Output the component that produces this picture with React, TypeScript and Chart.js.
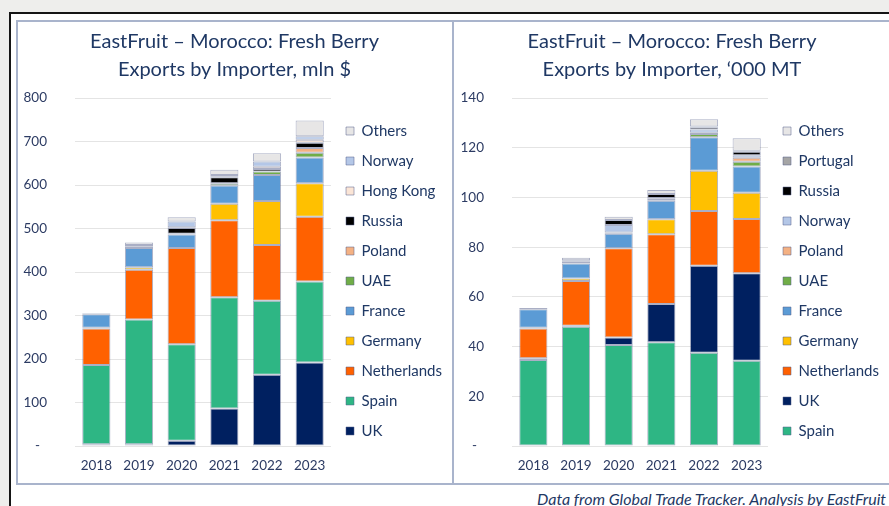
import { useEffect, useRef } from 'react';
import { Chart, registerables } from 'chart.js';

Chart.register(...registerables);

// ---------- data ----------
const YEARS = ['2018', '2019', '2020', '2021', '2022', '2023'];

// Left chart: mln $ (stack order bottom -> top)
const USD_UK = [4, 4, 12, 86, 164, 192];
const USD_SPAIN = [182, 287, 222, 256, 170, 186];
const USD_NETHERLANDS = [84, 114, 221, 177, 128, 149];
const USD_GERMANY = [2, 6, 0, 38, 101, 77];
const USD_FRANCE = [31, 44, 31, 42, 60, 59];
const USD_UAE = [0, 0, 2, 5, 8, 11];
const USD_POLAND = [0, 0, 0, 0, 0, 11];
const USD_RUSSIA = [1, 4, 13, 14, 6, 12];
const USD_HONGKONG = [0, 1, 2, 2, 5, 7];
const USD_NORWAY = [1, 2, 13, 3, 12, 8];
const USD_OTHERS = [1, 6, 10, 12, 19, 36];
const USD_MAX = 800;
const USD_STEP = 100;

// Right chart: '000 MT (stack order bottom -> top)
const MT_SPAIN = [34.6, 48, 40.6, 41.7, 37.5, 34.3];
const MT_UK = [0.7, 0.4, 3, 15.4, 35, 35.2];
const MT_NETHERLANDS = [12, 18, 36, 28.1, 22, 21.8];
const MT_GERMANY = [0.3, 1, 0, 6, 16.2, 10.6];
const MT_FRANCE = [7.4, 6, 5.8, 7.5, 13.5, 10.5];
const MT_UAE = [0, 0.2, 0.5, 0.8, 1.3, 2];
const MT_POLAND = [0, 0, 0, 0, 0.5, 1.6];
const MT_NORWAY = [0, 0.5, 3, 0.3, 1.3, 1];
const MT_RUSSIA = [0, 0, 2, 1.6, 0.9, 1.4];
const MT_PORTUGAL = [0, 0.6, 0, 0, 0.3, 0.4];
const MT_OTHERS = [0.5, 1, 1.3, 1.6, 3, 5];
const MT_MAX = 140;
const MT_STEP = 20;

const TITLE_LEFT = ['EastFruit – Morocco: Fresh Berry', 'Exports by Importer, mln $'];
const TITLE_RIGHT = ['EastFruit – Morocco: Fresh Berry', 'Exports by Importer, ‘000 MT'];
const FOOTER = 'Data from Global Trade Tracker. Analysis by EastFruit';

// ---------- styles ----------
const COLORS: Record<string, string> = {
  UK: '#002060',
  Spain: '#2eb684',
  Netherlands: '#ff6100',
  Germany: '#ffc000',
  France: '#5b9bd5',
  UAE: '#70ad47',
  Poland: '#f4b183',
  Russia: '#000000',
  'Hong Kong': '#fbe5d6',
  Norway: '#b4c7e7',
  Portugal: '#a5a5a5',
  Others: '#e7e6e6',
};
const FONT = 'Lato, "Open Sans", sans-serif';
const NAVY = '#1f3864';
const TICK = '#2c3b63';

const LEFT_SERIES: [string, number[]][] = [
  ['UK', USD_UK],
  ['Spain', USD_SPAIN],
  ['Netherlands', USD_NETHERLANDS],
  ['Germany', USD_GERMANY],
  ['France', USD_FRANCE],
  ['UAE', USD_UAE],
  ['Poland', USD_POLAND],
  ['Russia', USD_RUSSIA],
  ['Hong Kong', USD_HONGKONG],
  ['Norway', USD_NORWAY],
  ['Others', USD_OTHERS],
];

const RIGHT_SERIES: [string, number[]][] = [
  ['Spain', MT_SPAIN],
  ['UK', MT_UK],
  ['Netherlands', MT_NETHERLANDS],
  ['Germany', MT_GERMANY],
  ['France', MT_FRANCE],
  ['UAE', MT_UAE],
  ['Poland', MT_POLAND],
  ['Norway', MT_NORWAY],
  ['Russia', MT_RUSSIA],
  ['Portugal', MT_PORTUGAL],
  ['Others', MT_OTHERS],
];

function makeDatasets(series: [string, number[]][]) {
  return series.map(([label, data]) => ({
    label,
    data,
    backgroundColor: COLORS[label],
    borderColor: 'rgba(85,95,140,0.5)',
    borderWidth: 1,
    borderSkipped: false,
    barPercentage: 0.66,
    categoryPercentage: 1,
  }));
}

function makeConfig(
  series: [string, number[]][],
  title: string[],
  max: number,
  step: number,
  yWidth: number,
  legendWidth: number
): any {
  return {
    type: 'bar',
    data: { labels: YEARS, datasets: makeDatasets(series) },
    options: {
      responsive: false,
      animation: false,
      devicePixelRatio: 1,
      layout: { padding: 0 },
      plugins: {
        title: {
          display: true,
          text: title,
          color: NAVY,
          font: { family: FONT, size: 20, weight: 'normal', lineHeight: 28 / 20 },
          padding: { top: 7, bottom: 14 },
        },
        legend: {
          position: 'right',
          align: 'start',
          reverse: true,
          maxWidth: legendWidth,
          title: {
            display: true,
            text: '',
            font: { size: 10, lineHeight: 1 },
            padding: { top: 77.5, bottom: 0 },
          },
          labels: {
            color: NAVY,
            font: { family: FONT, size: 15 },
            boxWidth: 8,
            boxHeight: 8,
            padding: 15,
          },
        },
        tooltip: { enabled: false },
      },
      scales: {
        x: {
          stacked: true,
          grid: { display: false, drawTicks: false },
          border: { display: false },
          ticks: { color: TICK, font: { family: FONT, size: 13.5 }, padding: 12 },
          afterFit: (s: any) => {
            s.height = 37;
          },
        },
        y: {
          stacked: true,
          min: 0,
          max,
          grid: { color: '#e4e4e4', lineWidth: 1, drawTicks: false },
          border: { display: false },
          ticks: {
            stepSize: step,
            color: TICK,
            font: { family: FONT, size: 13.5 },
            padding: 28,
            callback: (v: any) => (Number(v) === 0 ? '-  ' : String(v)),
          },
          afterFit: (s: any) => {
            s.width = yWidth;
          },
        },
      },
    },
  };
}

export default function App() {
  const leftRef = useRef<HTMLCanvasElement>(null);
  const rightRef = useRef<HTMLCanvasElement>(null);

  useEffect(() => {
    const left = new Chart(
      leftRef.current as HTMLCanvasElement,
      makeConfig(LEFT_SERIES, TITLE_LEFT, USD_MAX, USD_STEP, 58, 123)
    );
    const right = new Chart(
      rightRef.current as HTMLCanvasElement,
      makeConfig(RIGHT_SERIES, TITLE_RIGHT, MT_MAX, MT_STEP, 57, 121)
    );
    return () => {
      left.destroy();
      right.destroy();
    };
  }, []);

  return (
    <div
      style={{
        position: 'fixed',
        left: 0,
        top: 0,
        width: 889,
        height: 506,
        overflow: 'hidden',
        background: '#eeeeec',
      }}
    >
      <div
        style={{
          position: 'absolute',
          left: 9,
          top: 12,
          width: 1000,
          height: 600,
          border: '2px solid #151515',
          background: '#ffffff',
        }}
      />
      <div
        style={{
          position: 'absolute',
          left: 16,
          top: 20,
          width: 1000,
          height: 461,
          border: '2px solid #a9b4cc',
          background: '#ffffff',
        }}
      />
      <div
        style={{
          position: 'absolute',
          left: 452,
          top: 20,
          width: 2,
          height: 463,
          background: '#a9b4cc',
        }}
      />
      <canvas
        ref={leftRef}
        width={435}
        height={462}
        style={{ position: 'absolute', left: 17, top: 21, width: 435, height: 462, display: 'block' }}
      />
      <canvas
        ref={rightRef}
        width={434}
        height={462}
        style={{ position: 'absolute', left: 455, top: 21, width: 434, height: 462, display: 'block' }}
      />
      <div
        style={{
          position: 'absolute',
          left: 537,
          top: 490,
          whiteSpace: 'nowrap',
          fontFamily: FONT,
          fontStyle: 'italic',
          fontSize: 16,
          lineHeight: '18px',
          color: NAVY,
        }}
      >
        {FOOTER}
      </div>
    </div>
  );
}
